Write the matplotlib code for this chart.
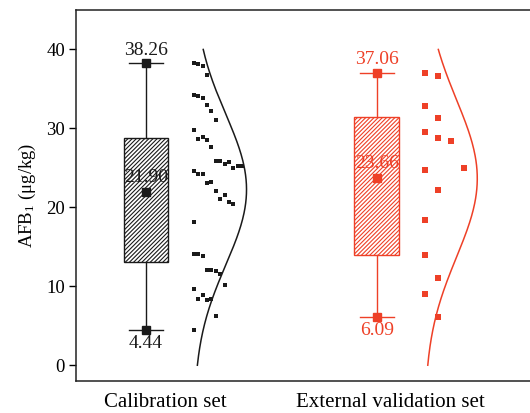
import numpy as np
import matplotlib.pyplot as plt

plt.rcParams['font.family'] = ['Liberation Serif', 'DejaVu Serif']
plt.rcParams['mathtext.default'] = 'regular'
plt.rcParams['hatch.linewidth'] = 0.8

groups = ['Calibration set', 'External validation set']
colors = ['#1a1a1a', '#ee4027']

# AFB1 values, listed bin by bin (bins of 5 ug/kg, top bin first)
calib = [38.32, 38.10, 37.85, 36.80,
         34.27, 34.05, 33.90, 33.00, 32.15, 31.10,
         29.75, 28.70, 28.90, 28.50, 27.60, 25.90, 25.90, 25.50, 25.70, 25.00, 25.20, 25.20,
         24.55, 24.20, 24.20, 23.10, 23.20, 22.05, 21.10, 21.50, 20.70, 20.40,
         18.20,
         14.05, 14.05, 13.80, 12.00, 12.10, 11.95, 11.50, 10.10,
         9.70, 8.35, 8.85, 8.20, 8.35, 6.20,
         4.44]
extval = [37.06, 36.70,
          32.80, 31.35,
          29.60, 28.80, 28.35, 25.00,
          24.70, 22.15,
          18.35,
          13.90, 11.10,
          8.99, 6.09]

# box summary statistics
means = [21.90, 23.66]
q1 = [13.10, 13.92]
q3 = [28.80, 31.43]
lows = [4.44, 6.09]
highs = [38.26, 37.06]

fig = plt.figure(figsize=(5.3, 4.13), dpi=100)
ax = fig.add_axes([0.1434, 0.0775, 0.8566, 0.8983])

pos = np.array([1.0, 2.0])
off = 0.208   # gap between box centre and the scatter/curve
W = 0.228     # width taken by the scatter and the curve

for i, (vals, c) in enumerate(zip([calib, extval], colors)):
    vals = np.array(vals)
    stats = [dict(med=means[i], q1=q1[i], q3=q3[i], whislo=lows[i], whishi=highs[i], mean=means[i])]
    ax.bxp(stats, positions=[pos[i]], widths=0.193, patch_artist=True,
           showmeans=False, showfliers=False, capwidths=0.147,
           boxprops=dict(facecolor='white', edgecolor=c, linewidth=1.0, hatch='////////'),
           whiskerprops=dict(color=c, linewidth=1.0),
           capprops=dict(color=c, linewidth=1.0),
           medianprops=dict(linewidth=0))
    # mean and whisker end markers
    ax.plot(pos[i], means[i], 's', color=c, ms=5.4, zorder=4)
    ax.plot([pos[i], pos[i]], [lows[i], highs[i]], 's', color=c, ms=5.4, zorder=4)
    kw = dict(ha='center', va='center', color=c, fontsize=14, textcoords='offset points')
    ax.annotate(f'{highs[i]:.2f}', (pos[i], highs[i]), xytext=(0, 9.5), **kw)
    ax.annotate(f'{lows[i]:.2f}', (pos[i], lows[i]), xytext=(0, -9.5), **kw)
    ax.annotate(f'{means[i]:.2f}', (pos[i], means[i]), xytext=(0, 10.5), zorder=5, **kw)

    # bin-aligned scatter: points in a 5-unit bin are spread left to right
    bins = np.floor(vals / 5).astype(int)
    counts = {b: 0 for b in bins}
    for b in bins:
        counts[b] += 1
    step = W / max(counts.values())
    seen = {b: 0 for b in bins}
    xs = []
    for b in bins:
        xs.append(pos[i] + off + seen[b] * step)
        seen[b] += 1
    ax.scatter(xs, vals, marker='s', s=11 if i == 0 else 14, color=c, linewidths=0, zorder=3)

    # normal curve from the data mean and sd
    mu, sd = vals.mean(), vals.std(ddof=1)
    yy = np.linspace(0, 40, 200)
    ax.plot(pos[i] + off + W * np.exp(-0.5 * ((yy - mu) / sd) ** 2), yy, color=c, lw=1.1)

ax.set_xlim(0.697, 2.6645)
ax.set_ylim(-2, 45)
ax.set_yticks([0, 10, 20, 30, 40])
ax.set_xticks([1.082, 2.06])
ax.set_xticklabels(groups, fontsize=15)
ax.tick_params(axis='x', length=0, pad=9)
ax.tick_params(axis='y', direction='out', length=5, width=1, labelsize=13.5, pad=3)
ax.set_ylabel('AFB$_1$ (μg/kg)', fontsize=13.5, labelpad=6)
ax.spines['right'].set_visible(False)
for s in ['left', 'bottom', 'top']:
    ax.spines[s].set_linewidth(1.1)
    ax.spines[s].set_color('#222222')

fig.savefig('out.png', dpi=100)
